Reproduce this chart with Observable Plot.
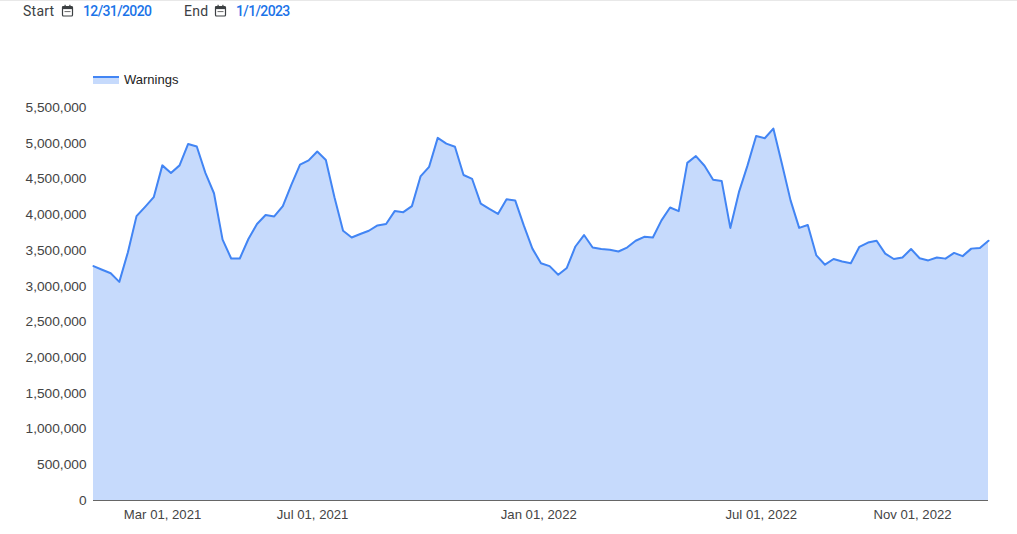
<!DOCTYPE html>
<html>
<head>
<meta charset="utf-8">
<script src="https://cdn.jsdelivr.net/npm/d3@7"></script>
<script src="https://cdn.jsdelivr.net/npm/@observablehq/plot@0.6"></script>
<style>
html,body{margin:0;padding:0;background:#fff;overflow:hidden;width:1017px;height:534px}
#head{position:relative;height:60px;border-top:1px solid #e8e8e8;box-sizing:border-box}
#head span{position:absolute;top:1px;font:400 14px/18px Roboto,sans-serif;white-space:nowrap}
#head .lab{color:#3c4043;letter-spacing:.25px}
#head .val{color:#1a73e8;font-weight:500;letter-spacing:-.62px}
#head svg{position:absolute;top:3px}
#chart svg{display:block}
#legend{position:absolute;top:71px;left:93px;height:18px;width:200px}
#legend i{position:absolute;left:0;top:5px;width:26px;height:8px;background:#c6dafc;border-top:2px solid #4285f4;box-sizing:border-box}
#legend b{position:absolute;left:31px;top:0;font:400 13px/18px "Liberation Sans",Arial,sans-serif;color:#222}
</style>
</head>
<body>
<div id="head">
  <span class="lab" style="left:23px">Start</span>
  <svg style="left:61px" width="13" height="13" viewBox="0 0 13 13"><rect x="1.5" y="2.5" width="10" height="9.5" rx="1" fill="none" stroke="#3c4043" stroke-width="1.2"/><rect x="1.5" y="2.5" width="10" height="2.6" fill="#3c4043"/><rect x="3.5" y="0.8" width="1.2" height="2" fill="#3c4043"/><rect x="8.3" y="0.8" width="1.2" height="2" fill="#3c4043"/><rect x="3.5" y="7" width="6" height="1.1" fill="#777"/></svg>
  <span class="val" style="left:83px">12/31/2020</span>
  <span class="lab" style="left:184px">End</span>
  <svg style="left:214px" width="13" height="13" viewBox="0 0 13 13"><rect x="1.5" y="2.5" width="10" height="9.5" rx="1" fill="none" stroke="#3c4043" stroke-width="1.2"/><rect x="1.5" y="2.5" width="10" height="2.6" fill="#3c4043"/><rect x="3.5" y="0.8" width="1.2" height="2" fill="#3c4043"/><rect x="8.3" y="0.8" width="1.2" height="2" fill="#3c4043"/><rect x="3.5" y="7" width="6" height="1.1" fill="#777"/></svg>
  <span class="val" style="left:236px">1/1/2023</span>
</div>
<div id="legend"><i></i><b>Warnings</b></div>
<div id="chart"></div>
<script>
const firstWeek = "2021-01-03";
const lastDay = "2023-01-01";
const warnings = [
3280000,3230000,3180000,3060000,3475000,3980000,4110000,4245000,4690000,4585000,
4690000,4990000,4955000,4585000,4300000,3650000,3387000,3387000,3660000,3870000,
3995000,3975000,4120000,4420000,4700000,4760000,4885000,4765000,4245000,3775000,
3680000,3730000,3775000,3850000,3870000,4050000,4035000,4120000,4535000,4670000,
5075000,4995000,4950000,4555000,4500000,4155000,4080000,4010000,4215000,4200000,
3850000,3525000,3320000,3280000,3160000,3255000,3555000,3715000,3540000,3520000,
3510000,3485000,3540000,3635000,3690000,3680000,3920000,4100000,4050000,4725000,
4820000,4685000,4490000,4470000,3815000,4315000,4690000,5100000,5070000,5205000,
4710000,4200000,3815000,3855000,3430000,3300000,3380000,3345000,3320000,3550000,
3610000,3635000,3455000,3380000,3400000,3520000,3390000,3360000,3400000,3385000,
3465000,3420000,3525000,3535000,3635000
];
const yTicks = [0,500000,1000000,1500000,2000000,2500000,3000000,3500000,4000000,4500000,5000000,5500000];
const xTicks = ["2021-03-01","2021-07-01","2022-01-01","2022-07-01","2022-11-01"];
const seriesColor = "#4285f4";

const parse = d3.utcParse("%Y-%m-%d");
const weeks = d3.utcWeek.range(parse(firstWeek), d3.utcDay.offset(parse(lastDay), 1));
const rows = warnings.map((v, i) => ({date: weeks[i], value: v}));

const plot = Plot.plot({
  width: 1017,
  height: 474,
  marginTop: 47,
  marginBottom: 34,
  marginLeft: 93,
  marginRight: 29,
  style: {fontFamily: '"Liberation Sans",Arial,sans-serif', fontSize: "13.3px", color: "#444", background: "#fff", overflow: "visible"},
  x: {type: "utc", domain: [parse(firstWeek), parse(lastDay)]},
  y: {domain: [0, 5500000]},
  marks: [
    Plot.areaY(rows, {x: "date", y: "value", fill: seriesColor, fillOpacity: 0.3}),
    Plot.lineY(rows, {x: "date", y: "value", stroke: seriesColor, strokeWidth: 2, strokeLinejoin: "round"}),
    Plot.ruleY([0], {stroke: "#666", strokeWidth: 1}),
    Plot.axisY({ticks: yTicks, tickSize: 0, tickPadding: 7, fontSize: 13.7, tickFormat: d3.format(","), label: null}),
    Plot.axisX({ticks: xTicks.map(parse), tickSize: 0, tickPadding: 9, dx: -1, fontSize: 13.15, tickFormat: d3.utcFormat("%b %d, %Y"), label: null})
  ]
});
document.getElementById("chart").appendChild(plot);
</script>
</body>
</html>
